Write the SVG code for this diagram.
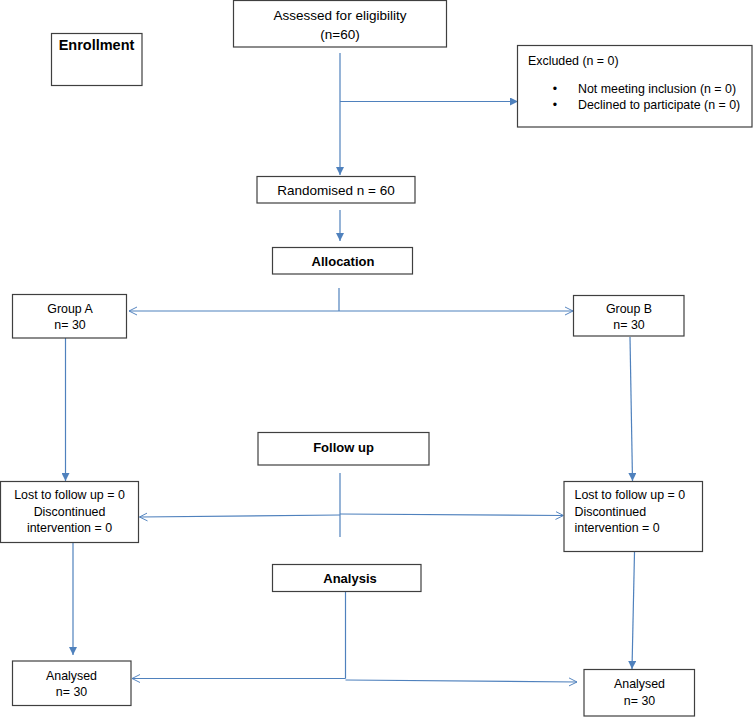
<svg xmlns="http://www.w3.org/2000/svg" width="753" height="717" viewBox="0 0 753 717">
<defs>
<style>
.box{fill:#fff;stroke:#3f3f3f;stroke-width:1.2}
.t{font-family:"Liberation Sans",Arial,sans-serif;font-size:12.4px;fill:#000}
.tl{font-family:"Liberation Sans",Arial,sans-serif;font-size:13.5px;fill:#000}
.b{font-family:"Liberation Sans",Arial,sans-serif;font-size:13px;font-weight:bold;fill:#000}
.c{stroke:#4f81bd;stroke-width:1.2;fill:none}
</style>
<marker id="af" viewBox="0 0 10 10" refX="10" refY="5" markerWidth="8" markerHeight="8" markerUnits="userSpaceOnUse" orient="auto">
<path d="M0,0 L10,5 L0,10 z" fill="#4f81bd"/>
</marker>
<marker id="ao" viewBox="0 0 10 10" refX="10" refY="5" markerWidth="8" markerHeight="10" markerUnits="userSpaceOnUse" orient="auto">
<path d="M0,0 L10,5 L0,10" fill="none" stroke="#4f81bd" stroke-width="1.2"/>
</marker>
</defs>
<rect width="753" height="717" fill="#fff"/>

<g id="connectors">
<line class="c" x1="340" y1="53" x2="340" y2="175" marker-end="url(#af)"/>
<line class="c" x1="340" y1="101.5" x2="518" y2="101.5" marker-end="url(#af)"/>
<line class="c" x1="340" y1="210" x2="340" y2="241" marker-end="url(#af)"/>
<line class="c" x1="339" y1="288" x2="339" y2="311"/>
<line class="c" x1="339" y1="311" x2="129" y2="311" marker-end="url(#ao)"/>
<line class="c" x1="339" y1="311" x2="573" y2="311" marker-end="url(#ao)"/>
<line class="c" x1="65.5" y1="338" x2="65.5" y2="481" marker-end="url(#af)"/>
<line class="c" x1="630" y1="337" x2="632.5" y2="481" marker-end="url(#af)"/>
<line class="c" x1="340" y1="473" x2="340" y2="537"/>
<line class="c" x1="340" y1="515" x2="139.5" y2="517" marker-end="url(#ao)"/>
<line class="c" x1="340" y1="514" x2="563.5" y2="515.5" marker-end="url(#ao)"/>
<line class="c" x1="73" y1="543" x2="73" y2="655" marker-end="url(#af)"/>
<line class="c" x1="634.5" y1="552" x2="632" y2="669" marker-end="url(#af)"/>
<line class="c" x1="345.5" y1="592" x2="345.5" y2="678.5"/>
<line class="c" x1="345.5" y1="678.5" x2="132" y2="678.5" marker-end="url(#ao)"/>
<line class="c" x1="345.5" y1="680" x2="577" y2="682" marker-end="url(#ao)"/>
</g>

<g id="enrollment">
<rect class="box" x="51.5" y="33.5" width="90.5" height="52"/>
<text class="b" x="96.5" y="50" text-anchor="middle" style="font-size:14.5px">Enrollment</text>
</g>

<g id="assessed">
<rect class="box" x="233.5" y="0.5" width="213" height="46.5"/>
<text class="tl" x="340" y="20" text-anchor="middle">Assessed for eligibility</text>
<text class="tl" x="340" y="39" text-anchor="middle">(n=60)</text>
</g>

<g id="excluded">
<rect class="box" x="517.5" y="45.5" width="234.5" height="81.5"/>
<text class="t" x="528" y="65">Excluded (n = 0)</text>
<text class="t" x="555" y="93" text-anchor="middle">•</text>
<text class="t" x="578" y="93">Not meeting inclusion (n = 0)</text>
<text class="t" x="555" y="109" text-anchor="middle">•</text>
<text class="t" x="578" y="109">Declined to participate (n = 0)</text>
</g>

<g id="randomised">
<rect class="box" x="257" y="176.5" width="158" height="26.5"/>
<text class="tl" x="336" y="195" text-anchor="middle">Randomised n = 60</text>
</g>

<g id="allocation">
<rect class="box" x="272.5" y="247.5" width="140" height="26.5"/>
<text class="b" x="343" y="266" text-anchor="middle">Allocation</text>
</g>

<g id="groupA">
<rect class="box" x="12.5" y="294.5" width="114" height="43.5"/>
<text class="t" x="70" y="313" text-anchor="middle">Group A</text>
<text class="t" x="70" y="329" text-anchor="middle">n= 30</text>
</g>

<g id="groupB">
<rect class="box" x="573.5" y="295.5" width="110.5" height="40.5"/>
<text class="t" x="629" y="313" text-anchor="middle">Group B</text>
<text class="t" x="629" y="329" text-anchor="middle">n= 30</text>
</g>

<g id="followup">
<rect class="box" x="258" y="432.5" width="171" height="32.5"/>
<text class="b" x="343.5" y="452" text-anchor="middle">Follow up</text>
</g>

<g id="lostA">
<rect class="box" x="0.5" y="481.5" width="138" height="61"/>
<text class="t" x="69.5" y="499" text-anchor="middle">Lost to follow up = 0</text>
<text class="t" x="69.5" y="515.5" text-anchor="middle">Discontinued</text>
<text class="t" x="69.5" y="532" text-anchor="middle">intervention = 0</text>
</g>

<g id="lostB">
<rect class="box" x="564" y="481.5" width="138.5" height="70"/>
<text class="t" x="574.5" y="499">Lost to follow up = 0</text>
<text class="t" x="574.5" y="515.5">Discontinued</text>
<text class="t" x="574.5" y="532">intervention = 0</text>
</g>

<g id="analysis">
<rect class="box" x="272.5" y="564.5" width="148.5" height="27"/>
<text class="b" x="350" y="583" text-anchor="middle">Analysis</text>
</g>

<g id="analysedA">
<rect class="box" x="12.5" y="661" width="118.5" height="44.5"/>
<text class="t" x="71.5" y="679.5" text-anchor="middle">Analysed</text>
<text class="t" x="71.5" y="696" text-anchor="middle">n= 30</text>
</g>

<g id="analysedB">
<rect class="box" x="584" y="669.5" width="110.5" height="46.5"/>
<text class="t" x="639.5" y="688" text-anchor="middle">Analysed</text>
<text class="t" x="639.5" y="704.5" text-anchor="middle">n= 30</text>
</g>
</svg>
